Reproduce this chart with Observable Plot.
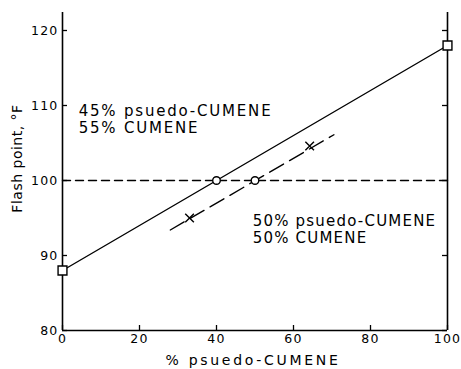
<!DOCTYPE html>
<html>
<head>
<meta charset="utf-8">
<script src="https://cdn.jsdelivr.net/npm/d3@7"></script>
<script src="https://cdn.jsdelivr.net/npm/@observablehq/plot@0.6"></script>
<style>
  html, body { margin: 0; padding: 0; background: white; }
</style>
</head>
<body>
<div id="chart"></div>
<script>
// ---- data ----
const xTicks = [0, 20, 40, 60, 80, 100];
const yTicks = [80, 90, 100, 110, 120];

// solid line (mixture rule)
const solidX = [0, 100];
const solidY = [88, 118];

// dashed line through measured points
const dashX = [28, 70.5];
const dashY = [93.4, 106.1];

// horizontal reference line at 100 °F
const refY = [100];
const refX = [0, 100];

// markers
const squareX = [0, 100];
const squareY = [88, 118];
const circleX = [40, 50];
const circleY = [100, 100];
const crossX = [33, 64.2];
const crossY = [95, 104.6];

// annotations
const noteText = ["45% psuedo-CUMENE\n55% CUMENE", "50% psuedo-CUMENE\n50% CUMENE"];
const noteX = [4.2, 49.4];
const noteY = [108.2, 93.5];

const xLabel = "% psuedo-CUMENE";
const yLabel = "Flash point, °F";

// ---- layout ----
const W = 461, H = 369, mL = 62, mR = 14, mT = 12, mB = 39;
const fw = W - mL - mR, fh = H - mT - mB;

const solid = solidX.map((x, i) => ({x, y: solidY[i]}));
const dashed = dashX.map((x, i) => ({x, y: dashY[i]}));
const ref = refX.map(x => ({x, y: refY[0]}));
const squares = squareX.map((x, i) => ({x, y: squareY[i]}));
const circles = circleX.map((x, i) => ({x, y: circleY[i]}));
const crosses = crossX.map((x, i) => ({x, y: crossY[i]}));
const notes = noteText.map((t, i) => ({t, x: noteX[i], y: noteY[i]}));

const svg = Plot.plot({
  width: W, height: H,
  marginLeft: mL, marginRight: mR, marginTop: mT, marginBottom: mB,
  x: {domain: [0, 100]},
  y: {domain: [80, 122.4]},
  style: {fontFamily: "DejaVu Sans", background: "white", color: "black", letterSpacing: "1.2px"},
  marks: [
    Plot.axisX(xTicks, {tickSize: 0, tickPadding: 4, fontSize: 12.5, label: null}),
    Plot.axisY(yTicks, {tickSize: 0, tickPadding: 4, fontSize: 12.5, label: null}),
    // inward ticks
    Plot.ruleX(xTicks, {insetTop: fh - 5, stroke: "black", strokeWidth: 1.3}),
    Plot.ruleY(yTicks, {insetRight: fw - 5, stroke: "black", strokeWidth: 1.3}),
    Plot.ruleY(yTicks, {insetLeft: fw - 5, stroke: "black", strokeWidth: 1.3}),
    // frame (left, right, bottom)
    Plot.ruleX([0, 100], {stroke: "black", strokeWidth: 1.6}),
    Plot.ruleY([80], {stroke: "black", strokeWidth: 1.6}),
    // dashed reference
    Plot.line(ref, {x: "x", y: "y", stroke: "black", strokeWidth: 1.4, strokeDasharray: "8,5"}),
    // lines
    Plot.line(solid, {x: "x", y: "y", stroke: "black", strokeWidth: 1.4}),
    Plot.line(dashed, {x: "x", y: "y", stroke: "black", strokeWidth: 1.4, strokeDasharray: "16,7"}),
    // markers
    Plot.dot(squares, {x: "x", y: "y", symbol: "square", r: 5, fill: "white", stroke: "black", strokeWidth: 1.4}),
    Plot.dot(circles, {x: "x", y: "y", symbol: "circle", r: 3.8, fill: "white", stroke: "black", strokeWidth: 1.4}),
    Plot.dot(crosses, {x: "x", y: "y", symbol: "times", r: 4, stroke: "black", strokeWidth: 1.4}),
    // annotations
    Plot.text(notes, {x: "x", y: "y", text: "t", textAnchor: "start", lineAnchor: "middle", lineHeight: 1.1, fontSize: 15, fill: "black"}),
    // axis titles
    Plot.text([xLabel], {frameAnchor: "bottom", textAnchor: "middle", lineAnchor: "middle", dy: 30, dx: -2, fontSize: 14, fill: "black"}),
    Plot.text([yLabel], {frameAnchor: "left", textAnchor: "middle", lineAnchor: "middle", dx: -45, dy: -13, rotate: -90, fontSize: 14, fill: "black"})
  ]
});

// per-text letter spacing (wide typewriter-like lettering of the original)
const noteSpacing = ["1.8px", "1.2px"];
svg.querySelectorAll("text").forEach(t => {
  const c = t.textContent;
  let sp = null;
  if (c === xLabel) sp = "2.7px";
  else if (c === yLabel) sp = "0.5px";
  else noteText.forEach((n, i) => { if (n.replace("\n", "") === c) sp = noteSpacing[i]; });
  if (sp) {
    t.style.letterSpacing = sp;
    t.querySelectorAll("tspan").forEach(ts => ts.style.letterSpacing = sp);
  }
});

document.getElementById("chart").appendChild(svg);
</script>
</body>
</html>
